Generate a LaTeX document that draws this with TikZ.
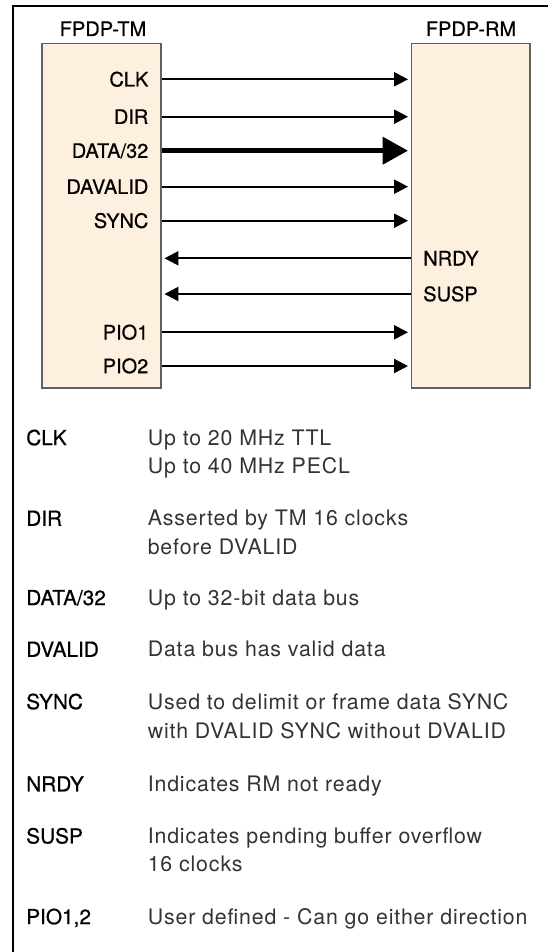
\documentclass[tikz,border=0pt]{standalone}
\usepackage{fontspec}
\setmainfont{TeX Gyre Heros}
\newfontfamily\lblfamily[FakeBold=0.6]{TeX Gyre Heros}
\newfontfamily\descfamily[LetterSpace=4]{TeX Gyre Heros}
\usetikzlibrary{arrows.meta}
\definecolor{boxfill}{HTML}{FEF0DE}
\definecolor{boxline}{HTML}{606060}
\begin{document}
\begin{tikzpicture}[x=0.75pt,y=-0.75pt,
  lbl/.style={font=\lblfamily\fontsize{15}{18}\selectfont, inner sep=0pt, text height=10.8pt, text depth=0pt},
  lgd/.style={font=\lblfamily\fontsize{15.6}{18}\selectfont, inner sep=0pt, text height=11.2pt, text depth=0pt, anchor=west},
  desc/.style={font=\descfamily\fontsize{16}{19}\selectfont, text=black!80, inner sep=0pt, text height=11.5pt, text depth=0pt, anchor=west},
  module/.style={draw=boxline, line width=0.8pt, fill=boxfill, inner sep=0pt},
  sig/.style={line width=1.7pt, -{Triangle[length=10.5pt,width=10.5pt]}, shorten >=2.2pt},
  bus/.style={line width=3.6pt, -{Triangle[length=19pt,width=20pt]}, shorten >=2.2pt},
]
\useasboundingbox (0,0) rectangle (548,952);
\clip (0,0) rectangle (548,952);
% outer frame (continues beyond the right and bottom edges)
\draw[line width=1.5pt] (12.5,1100) |- (700,6.5);

% modules
\node[module, minimum width=89.25pt, minimum height=258.5pt] (tm) at (101.5,215.65) {};
\node[module, minimum width=88.9pt, minimum height=258.5pt] (rm) at (470.75,215.65) {};
\node[lbl] (tmt) at (103,28.8) {FPDP-TM};
\node[lbl] (rmt) at (471,28.8) {FPDP-RM};

% signal labels
\node[lbl, anchor=east] (clk) at (148.6,79.3) {CLK};
\node[lbl, anchor=east] (dir) at (148.6,116.7) {DIR};
\node[lbl, anchor=east] (data) at (148.6,150.7) {DATA/32};
\node[lbl, anchor=east] (davalid) at (148.6,186.7) {DAVALID};
\node[lbl, anchor=east] (sync) at (148.6,220.7) {SYNC};
\node[lbl, anchor=west] (nrdy) at (423,258.3) {NRDY};
\node[lbl, anchor=west] (susp) at (423,294) {SUSP};
\node[lbl, anchor=east] (pio1) at (148.6,332.3) {PIO1};
\node[lbl, anchor=east] (pio2) at (148.6,366) {PIO2};

% connectors
\draw[sig] (tm.east |- clk) -- (rm.west |- clk);
\draw[sig] (tm.east |- dir) -- (rm.west |- dir);
\draw[bus] (tm.east |- data) -- (rm.west |- data);
\draw[sig] (tm.east |- davalid) -- (rm.west |- davalid);
\draw[sig] (tm.east |- sync) -- (rm.west |- sync);
\draw[sig] (rm.west |- nrdy) -- (tm.east |- nrdy);
\draw[sig] (rm.west |- susp) -- (tm.east |- susp);
\draw[sig] (tm.east |- pio1) -- (rm.west |- pio1);
\draw[sig] (tm.east |- pio2) -- (rm.west |- pio2);

% legend
\node[lgd] (lclk) at (26,437.7) {CLK};
\node[desc] (dclka) at (147.5,437.7) {Up to 20 MHz TTL};
\node[desc] (dclkb) at (147.5,466.2) {Up to 40 MHz PECL};
\node[lgd] (ldir) at (26,518.3) {DIR};
\node[desc] (ddira) at (147.5,518.3) {Asserted by TM 16 clocks};
\node[desc] (ddirb) at (147.5,546.7) {before DVALID};
\node[lgd] (ldata) at (26,597.7) {DATA/32};
\node[desc] (ddata) at (147.5,597.7) {Up to 32-bit data bus};
\node[lgd] (ldvalid) at (26,649.3) {DVALID};
\node[desc] (ddvalid) at (147.5,649.3) {Data bus has valid data};
\node[lgd] (lsync) at (26,701.7) {SYNC};
\node[desc] (dsynca) at (147.5,701.7) {Used to delimit or frame data SYNC};
\node[desc] (dsyncb) at (147.5,731.2) {with DVALID SYNC without DVALID};
\node[lgd] (lnrdy) at (26,784) {NRDY};
\node[desc] (dnrdy) at (147.5,784) {Indicates RM not ready};
\node[lgd] (lsusp) at (26,836) {SUSP};
\node[desc] (dsuspa) at (147.5,836) {Indicates pending buffer overflow};
\node[desc] (dsuspb) at (147.5,864.3) {16 clocks};
\node[lgd] (lpio) at (26,916.7) {PIO1,2};
\node[desc] (dpio) at (147.5,916.7) {User defined - Can go either direction};
\end{tikzpicture}
\end{document}
